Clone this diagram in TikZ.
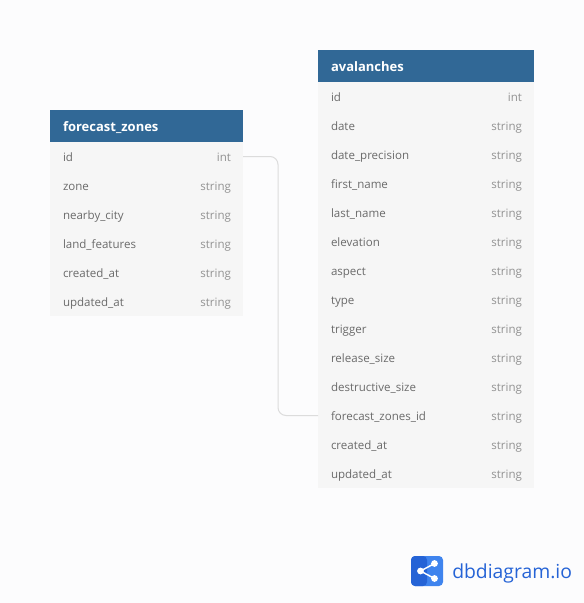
\documentclass[tikz,border=0pt]{standalone}
\usepackage{fontspec}
\setmainfont{Open Sans}
\usetikzlibrary{positioning}
\definecolor{headblue}{HTML}{316896}
\definecolor{rowgray}{HTML}{F6F6F6}
\definecolor{textgray}{HTML}{6B6B6B}
\definecolor{typegray}{HTML}{929292}
\definecolor{linegray}{HTML}{DCDCDC}
\definecolor{pagegray}{HTML}{FCFCFD}
\definecolor{logoblue}{HTML}{2563D6}
\definecolor{logolight}{HTML}{3F84EE}
\begin{document}
\begin{tikzpicture}[
		x=.75pt, y=-.75pt,
		node distance=0pt,
		head/.style={fill=headblue, text=white, font=\bfseries\fontsize{9.75}{11}\selectfont, minimum height=24pt, inner sep=0pt, outer sep=0pt, inner xsep=9.75pt, text height=8.5pt, text depth=.5pt, align=left},
		row/.style={fill=rowgray, text=textgray, font=\fontsize{8.65}{11}\selectfont, minimum height=21.75pt, inner sep=0pt, outer sep=0pt, inner xsep=9.75pt, text height=8pt, text depth=.5pt, align=left},
		typ/.style={text=typegray, font=\fontsize{8.65}{11}\selectfont, anchor=east, inner sep=0pt, outer sep=0pt, xshift=-9pt, text height=8pt, text depth=.5pt},
		a/.style={draw=linegray, line width=.75pt, rounded corners=6pt},
	]
		\useasboundingbox[fill=pagegray] (0,0) rectangle (584,603);

		\node[head, anchor=north west, minimum width=144.75pt, text width=125.25pt] (fz) at (50,110) {forecast\_zones};
		\node[row, below=of fz, minimum width=144.75pt, text width=125.25pt] (fzid) {id};
		\node[row, below=of fzid, minimum width=144.75pt, text width=125.25pt] (fzzone) {zone};
		\node[row, below=of fzzone, minimum width=144.75pt, text width=125.25pt] (fzcity) {nearby\_city};
		\node[row, below=of fzcity, minimum width=144.75pt, text width=125.25pt] (fzland) {land\_features};
		\node[row, below=of fzland, minimum width=144.75pt, text width=125.25pt] (fzcreated) {created\_at};
		\node[row, below=of fzcreated, minimum width=144.75pt, text width=125.25pt] (fzupdated) {updated\_at};
		\node[typ] at (fzid.east) {int};
		\foreach \n in {fzzone,fzcity,fzland,fzcreated,fzupdated}
			\node[typ] at (\n.east) {string};

		\node[head, anchor=north west, minimum width=162pt, text width=142.5pt] (av) at (318,50) {avalanches};
		\node[row, below=of av, minimum width=162pt, text width=142.5pt] (avid) {id};
		\node[row, below=of avid, minimum width=162pt, text width=142.5pt] (avdate) {date};
		\node[row, below=of avdate, minimum width=162pt, text width=142.5pt] (avprec) {date\_precision};
		\node[row, below=of avprec, minimum width=162pt, text width=142.5pt] (avfirst) {first\_name};
		\node[row, below=of avfirst, minimum width=162pt, text width=142.5pt] (avlast) {last\_name};
		\node[row, below=of avlast, minimum width=162pt, text width=142.5pt] (avelev) {elevation};
		\node[row, below=of avelev, minimum width=162pt, text width=142.5pt] (avaspect) {aspect};
		\node[row, below=of avaspect, minimum width=162pt, text width=142.5pt] (avtype) {type};
		\node[row, below=of avtype, minimum width=162pt, text width=142.5pt] (avtrigger) {trigger};
		\node[row, below=of avtrigger, minimum width=162pt, text width=142.5pt] (avrelease) {release\_size};
		\node[row, below=of avrelease, minimum width=162pt, text width=142.5pt] (avdestr) {destructive\_size};
		\node[row, below=of avdestr, minimum width=162pt, text width=142.5pt] (avfz) {forecast\_zones\_id};
		\node[row, below=of avfz, minimum width=162pt, text width=142.5pt] (avcreated) {created\_at};
		\node[row, below=of avcreated, minimum width=162pt, text width=142.5pt] (avupdated) {updated\_at};
		\node[typ] at (avid.east) {int};
		\foreach \n in {avdate,avprec,avfirst,avlast,avelev,avaspect,avtype,avtrigger,avrelease,avdestr,avfz,avcreated,avupdated}
			\node[typ] at (\n.east) {string};

		\draw[a] (fzid.east) -- ++(35,0) |- (avfz.west);

		% logo
		\fill[logolight, rounded corners=3pt] (411,556) rectangle (443,586);
		\fill[logoblue, rounded corners=3pt] (411,556) -- (427,556) -- (427,586) -- (411,586) -- cycle;
		\draw[white, line width=1.1pt] (434.5,563.5) -- (420.5,571) -- (434.5,578.5);
		\fill[white] (420.5,571) circle (3.4) (434.5,563.5) circle (3.4) (434.5,578.5) circle (3.4);
		\node[text=logoblue, font=\fontsize{14.5}{18}\selectfont, anchor=base west, inner sep=0pt] (logotext) at (452,578) {dbdiagram.io};
	\end{tikzpicture}
\end{document}
